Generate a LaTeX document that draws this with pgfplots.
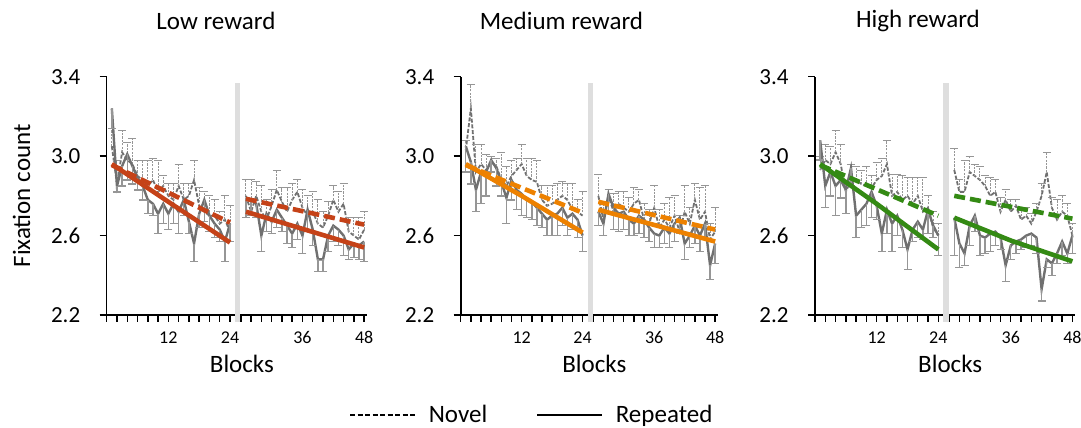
\documentclass[border=0pt]{standalone}
\usepackage{pgfplots}
\pgfplotsset{compat=1.18}
\usepackage{pgfplotstable}
\usepackage{fontspec}
\setmainfont{Carlito}
\definecolor{lowc}{RGB}{197,66,24}
\definecolor{medc}{RGB}{237,129,0}
\definecolor{highc}{RGB}{52,138,20}
\definecolor{dgray}{RGB}{112,112,112}
\definecolor{egray}{RGB}{150,150,150}
\definecolor{bargray}{RGB}{222,222,222}

% b = block, n = novel mean, ne = novel error (up), r = repeated mean, re = repeated error (down)
\pgfplotstableread{
b n ne r re
1 3.05 .09 3.24 .10
2 2.86 .12 2.85 .03
3 3.02 .11 2.95 .10
4 2.98 .09 3.01 .13
5 2.96 .13 2.95 .09
6 2.90 .08 2.89 .06
7 2.88 .10 2.85 .07
8 2.85 .13 2.78 .07
9 2.88 .11 2.76 .06
10 2.82 .16 2.71 .10
11 2.85 .05 2.76 .10
12 2.80 .06 2.71 .08
13 2.78 .08 2.76 .10
14 2.85 .11 2.72 .11
15 2.78 .08 2.78 .08
16 2.80 .06 2.67 .06
17 2.88 .10 2.56 .09
18 2.75 .09 2.71 .07
19 2.72 .10 2.78 .11
20 2.70 .10 2.70 .08
21 2.70 .08 2.66 .07
22 2.66 .06 2.63 .06
23 2.68 .12 2.57 .10
24 2.62 .13 2.66 .09
}\Lone
\pgfplotstableread{
b n ne r re
25 2.80 .08 2.79 .10
26 2.72 .16 2.78 .08
27 2.80 .07 2.76 .07
28 2.72 .13 2.60 .08
29 2.68 .10 2.71 .09
30 2.75 .08 2.67 .06
31 2.83 .10 2.73 .09
32 2.77 .07 2.69 .07
33 2.72 .12 2.65 .09
34 2.78 .08 2.61 .07
35 2.82 .06 2.66 .08
36 2.74 .09 2.60 .09
37 2.70 .10 2.73 .10
38 2.72 .10 2.63 .08
39 2.66 .12 2.48 .06
40 2.64 .08 2.48 .06
41 2.70 .07 2.60 .08
42 2.78 .07 2.65 .08
43 2.72 .10 2.63 .08
44 2.76 .10 2.60 .10
45 2.62 .07 2.53 .05
46 2.60 .09 2.56 .07
47 2.58 .11 2.55 .07
48 2.63 .09 2.57 .10
}\Rone
\pgfplotstableread{
b n ne r re
1 3.03 .05 3.05 .13
2 3.24 .12 2.97 .11
3 2.92 .14 2.83 .11
4 2.96 .10 2.92 .16
5 2.93 .08 2.92 .12
6 2.97 .03 2.98 .06
7 2.95 .04 2.94 .09
8 2.88 .14 2.87 .07
9 2.85 .10 2.79 .13
10 2.90 .08 2.88 .10
11 2.93 .06 2.83 .10
12 2.96 .10 2.81 .11
13 2.90 .09 2.78 .09
14 2.88 .11 2.77 .09
15 2.87 .11 2.74 .09
16 2.78 .07 2.71 .07
17 2.75 .10 2.68 .08
18 2.76 .09 2.70 .10
19 2.78 .08 2.71 .11
20 2.80 .07 2.74 .09
21 2.78 .08 2.69 .09
22 2.73 .13 2.71 .08
23 2.72 .06 2.68 .09
24 2.70 .12 2.60 .08
}\Ltwo
\pgfplotstableread{
b n ne r re
25 2.80 .11 2.72 .07
26 2.68 .08 2.66 .06
27 2.80 .03 2.81 .09
28 2.72 .09 2.74 .11
29 2.76 .06 2.71 .09
30 2.74 .08 2.72 .09
31 2.72 .07 2.68 .08
32 2.76 .08 2.66 .06
33 2.78 .05 2.70 .09
34 2.68 .08 2.68 .09
35 2.66 .07 2.64 .07
36 2.74 .11 2.61 .07
37 2.64 .09 2.60 .06
38 2.68 .08 2.64 .08
39 2.64 .15 2.61 .07
40 2.70 .10 2.66 .09
41 2.62 .08 2.69 .08
42 2.72 .13 2.56 .08
43 2.66 .08 2.60 .06
44 2.78 .08 2.65 .09
45 2.68 .16 2.60 .08
46 2.72 .13 2.66 .08
47 2.58 .08 2.45 .07
48 2.62 .12 2.56 .10
}\Rtwo
\pgfplotstableread{
b n ne r re
1 2.93 .07 3.08 .10
2 2.98 .08 2.85 .11
3 2.96 .09 2.92 .12
4 3.02 .11 2.85 .15
5 2.96 .10 2.88 .09
6 2.82 .05 2.83 .12
7 2.88 .08 2.94 .09
8 2.88 .07 2.70 .11
9 2.86 .07 2.73 .09
10 2.85 .10 2.76 .11
11 2.84 .06 2.82 .13
12 2.88 .09 2.75 .07
13 2.90 .09 2.61 .09
14 2.96 .12 2.73 .12
15 2.80 .11 2.66 .14
16 2.82 .09 2.70 .10
17 2.78 .12 2.63 .09
18 2.80 .09 2.53 .10
19 2.76 .13 2.63 .06
20 2.80 .09 2.67 .08
21 2.72 .17 2.63 .05
22 2.74 .06 2.73 .12
23 2.64 .08 2.65 .06
24 2.60 .06 2.60 .10
}\Lthree
\pgfplotstableread{
b n ne r re
25 2.93 .11 2.69 .19
26 2.82 .06 2.56 .12
27 2.82 .16 2.51 .06
28 2.92 .08 2.65 .10
29 2.90 .06 2.70 .08
30 2.88 .07 2.60 .10
31 2.85 .05 2.59 .08
32 2.80 .09 2.61 .09
33 2.82 .06 2.62 .07
34 2.72 .07 2.59 .06
35 2.78 .05 2.45 .08
36 2.72 .06 2.55 .07
37 2.75 .03 2.57 .06
38 2.68 .05 2.58 .05
39 2.70 .04 2.60 .06
40 2.66 .05 2.61 .06
41 2.72 .04 2.59 .08
42 2.80 .06 2.33 .06
43 2.92 .10 2.48 .04
44 2.74 .05 2.46 .06
45 2.68 .10 2.51 .05
46 2.72 .08 2.57 .07
47 2.70 .06 2.51 .05
48 2.60 .06 2.60 .09
}\Rthree

\pgfplotsset{
  panel/.style={
    scale only axis, width=260pt, height=238.3pt,
    xmin=0, xmax=50.6, ymin=2.2, ymax=3.4,
    axis x line*=bottom, axis y line*=left,
    axis line style={line width=1.6pt, black},
    xtick={0,2,4,6,8,10,12,14,16,18,20,22,24,26.1,28.1,30.1,32.1,34.1,36.1,38.1,40.1,42.1,44.1,46.1,48.1,50.1},
    xticklabels={,,,,,,12,,,,,,24,,,,,,,36,,,,,,48},
    ytick={2.2,2.6,3.0,3.4}, yticklabels={2.2,2.6,3.0,3.4},
    tick align=outside, major tick length=7pt,
    tick style={line width=1.4pt, black},
    yticklabel style={font=\fontsize{23}{26}\selectfont, xshift=-16pt},
    xticklabel style={font=\fontsize{18}{21}\selectfont, yshift=-6pt},
    xlabel={Blocks},
    xlabel style={at={(axis description cs:0.52,-0.206)}, anchor=center, font=\fontsize{25}{30}\selectfont},
    title style={at={(axis description cs:0.42,1.21)}, anchor=center, font=\fontsize{25}{30}\selectfont},
    clip=false,
  },
  nov/.style={dgray, line width=1.8pt, dash pattern=on 4pt off 1.8pt,
    error bars/.cd, y dir=plus, y explicit,
    error bar style={egray, line width=1pt, dash pattern=on 2.2pt off 1.2pt},
    error mark options={rotate=90, egray, line width=1pt, mark size=4pt, solid}},
  rep/.style={dgray, line width=2.4pt,
    error bars/.cd, y dir=minus, y explicit,
    error bar style={egray, line width=1.4pt},
    error mark options={rotate=90, egray, line width=1.4pt, mark size=4pt}},
  fitd/.style={line width=4.6pt, dash pattern=on 11pt off 5pt},
  fits/.style={line width=4.6pt},
  gbar/.style={fill=bargray, draw=none},
}

\begin{document}
\begin{tikzpicture}
\useasboundingbox (0,0) rectangle (1081pt,428pt);

% ---------- Low reward
\begin{axis}[panel, at={(106.7pt,113pt)}, anchor=south west, title={Low reward},
  ylabel={Fixation count},
  ylabel style={at={(axis description cs:-0.327,0.5)}, anchor=center, font=\fontsize{25}{30}\selectfont}]
\addplot[gbar] coordinates {(25,2.165) (25,3.37) (26,3.37) (26,2.165)} -- cycle;
\addplot[nov] table[x=b, y=n, y error=ne] {\Lone};
\addplot[rep] table[x=b, y=r, y error=re] {\Lone};
\addplot[nov] table[x expr=\thisrow{b}+2.1, y=n, y error=ne] {\Rone};
\addplot[rep] table[x expr=\thisrow{b}+2.1, y=r, y error=re] {\Rone};
\addplot[lowc, fitd] coordinates {(1,2.955) (24,2.665)};
\addplot[lowc, fits] coordinates {(1,2.96) (12,2.77) (24,2.565)};
\addplot[lowc, fitd] coordinates {(27.1,2.785) (50.1,2.655)};
\addplot[lowc, fits] coordinates {(27.1,2.72) (50.1,2.54)};
\end{axis}

% ---------- Medium reward
\begin{axis}[panel, at={(460.7pt,113pt)}, anchor=south west, width=257pt, title={Medium reward},
  title style={at={(axis description cs:0.392,1.21)}}]
\addplot[gbar] coordinates {(25,2.165) (25,3.37) (26,3.37) (26,2.165)} -- cycle;
\addplot[nov] table[x=b, y=n, y error=ne] {\Ltwo};
\addplot[rep] table[x=b, y=r, y error=re] {\Ltwo};
\addplot[nov] table[x expr=\thisrow{b}+2.1, y=n, y error=ne] {\Rtwo};
\addplot[rep] table[x expr=\thisrow{b}+2.1, y=r, y error=re] {\Rtwo};
\addplot[medc, fitd] coordinates {(1,2.955) (24,2.715)};
\addplot[medc, fits] coordinates {(1,2.96) (12,2.80) (24,2.615)};
\addplot[medc, fitd] coordinates {(27.1,2.77) (50.1,2.63)};
\addplot[medc, fits] coordinates {(27.1,2.73) (50.1,2.57)};
\end{axis}

% ---------- High reward
\begin{axis}[panel, at={(815pt,113pt)}, anchor=south west, title={High reward},
  title style={at={(axis description cs:0.396,1.21)}}]
\addplot[gbar] coordinates {(25,2.165) (25,3.37) (26,3.37) (26,2.165)} -- cycle;
\addplot[nov] table[x=b, y=n, y error=ne] {\Lthree};
\addplot[rep] table[x=b, y=r, y error=re] {\Lthree};
\addplot[nov] table[x expr=\thisrow{b}+2.1, y=n, y error=ne] {\Rthree};
\addplot[rep] table[x expr=\thisrow{b}+2.1, y=r, y error=re] {\Rthree};
\addplot[highc, fitd] coordinates {(1,2.955) (24,2.70)};
\addplot[highc, fits] coordinates {(1,2.96) (12,2.76) (24,2.53)};
\addplot[highc, fitd] coordinates {(27.1,2.80) (50.1,2.685)};
\addplot[highc, fits] coordinates {(27.1,2.69) (38.1,2.575) (50.1,2.47)};
\end{axis}

% ---------- legend
\begin{axis}[hide axis, scale only axis, width=10pt, height=10pt,
  at={(531pt,13pt)}, anchor=center, xmin=0, xmax=1, ymin=0, ymax=1,
  legend columns=2,
  legend style={at={(0.5,0.5)}, anchor=center, draw=none, fill=none,
    font=\fontsize{25}{30}\selectfont, nodes={inner sep=0pt},
    /tikz/every odd column/.append style={column sep=13pt},
    /tikz/every even column/.append style={column sep=49pt}},
  legend image code/.code={\draw[#1] (0pt,0pt) -- (65pt,0pt);}]
\addlegendimage{black, line width=1.2pt, dash pattern=on 5pt off 2.5pt}
\addlegendentry{Novel}
\addlegendimage{black, line width=1.6pt}
\addlegendentry{Repeated}
\end{axis}
\end{tikzpicture}
\end{document}
